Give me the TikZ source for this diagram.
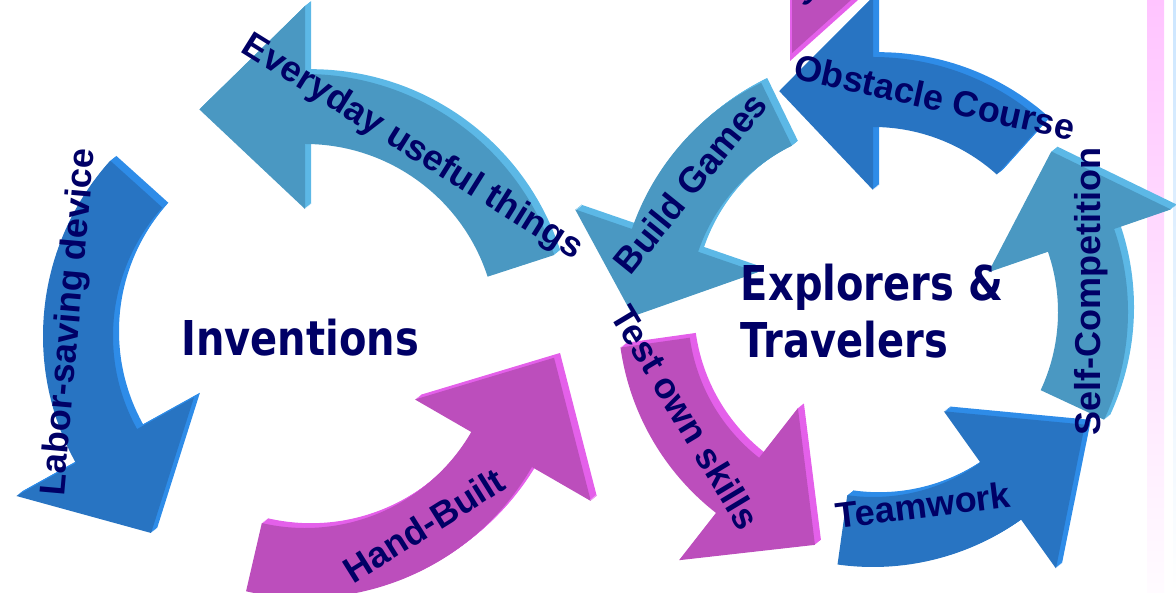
\documentclass[tikz,border=0pt]{standalone}
\usepackage{fontspec}
\setmainfont{Liberation Sans}
\newfontfamily\hubfont{DejaVu Sans}

\definecolor{navy}{HTML}{000066}
\definecolor{tealface}{HTML}{4A98C2}
\definecolor{tealside}{HTML}{5CB8E6}
\definecolor{blueface}{HTML}{2874C2}
\definecolor{blueside}{HTML}{2E8CE8}
\definecolor{magface}{HTML}{BC4EBC}
\definecolor{magside}{HTML}{E460EA}
\definecolor{stripepink}{HTML}{FFC4FF}
\definecolor{stripeblue}{HTML}{CCE6FF}

% centre, tail angle, head angle, tip angle, face colour, side colour
\newcommand{\cyclearrow}[6]{%
  \begin{scope}[shift={(#1)}]
    \foreach \k in {1,...,6}
      \fill[#6, xshift=\k pt, yshift={0.8*\k pt}] (#2:\rout) arc[start angle=#2, end angle=#3, radius=\rout]
        -- (#3:\hout) -- (#4:\rtip) -- (#3:\hin) -- (#3:\rin) arc[start angle=#3, end angle=#2, radius=\rin] -- cycle;
    \fill[#5] (#2:\rout) arc[start angle=#2, end angle=#3, radius=\rout]
      -- (#3:\hout) -- (#4:\rtip) -- (#3:\hin) -- (#3:\rin) arc[start angle=#3, end angle=#2, radius=\rin] -- cycle;
  \end{scope}}

\begin{document}
\begin{tikzpicture}[x=1pt, y=1pt,
  armtext/.style={font={\bfseries\fontsize{36}{40}\selectfont}, text=navy, inner sep=0pt},
  hubtext/.style={font={\hubfont\bfseries\fontsize{40}{47}\selectfont}, text=navy, inner sep=0pt, align=left, yscale=1.2, transform shape}]

  \useasboundingbox (0,0) rectangle (1176,593);
  \clip (0,0) rectangle (1176,593);

  \shade[top color=stripepink, bottom color=stripepink!6] (1147,0) rectangle (1164,593);
  \shade[top color=stripeblue, bottom color=white] (1173,0) rectangle (1176,593);

  % inventions cycle
  \def\rin{192} \def\rout{262} \def\hin{127} \def\hout{330} \def\rtip{250}
  \cyclearrow{305,257}{18}{90}{115}{tealface}{tealside}
  \cyclearrow{305,257}{138}{209}{232}{blueface}{blueside}
  \cyclearrow{305,257}{257}{330}{355}{magface}{magside}

  \fill[magside] (790,593) -- (858,593) -- (790,532) -- cycle;
  \fill[magface] (792,593) -- (851,593) -- (792,540) -- cycle;

  % explorers cycle
  \def\rin{185} \def\rout{255} \def\hin{122} \def\hout{315} \def\rtip{240}
  \cyclearrow{873,281}{-25}{19}{42}{tealface}{tealside}
  \cyclearrow{873,281}{48}{90}{113}{blueface}{blueside}
  \cyclearrow{873,281}{116}{161}{181}{tealface}{tealside}
  \cyclearrow{873,281}{188}{232}{256}{magface}{magside}
  \cyclearrow{873,281}{262}{305.5}{332}{blueface}{blueside}

  \node[hubtext] (inventions) at (300,255) {Inventions};
  \node[hubtext] (explorers) at (872,282) {Explorers \&\\Travelers};

  \node[armtext, rotate=-32] (everyday) at (412,445) {Everyday useful things};
  \node[armtext, rotate=85] (labor) at (70,271) {Labor-saving device};
  \node[armtext, rotate=32] (handbuilt) at (424,68) {Hand-Built};
  \node[armtext, rotate=51] (games) at (690,410) {Build Games};
  \node[armtext, rotate=-12.5] (obstacle) at (935,496) {Obstacle Course};
  \node[armtext, rotate=90] (selfcomp) at (1091,301) {Self-Competition};
  \node[armtext, rotate=7] (teamwork) at (923,88) {Teamwork};
  \node[armtext, rotate=-59] (testskills) at (686,176) {Test own skills};
  \node[armtext, rotate=50] (cutoff) at (805,598) {s};
\end{tikzpicture}
\end{document}
